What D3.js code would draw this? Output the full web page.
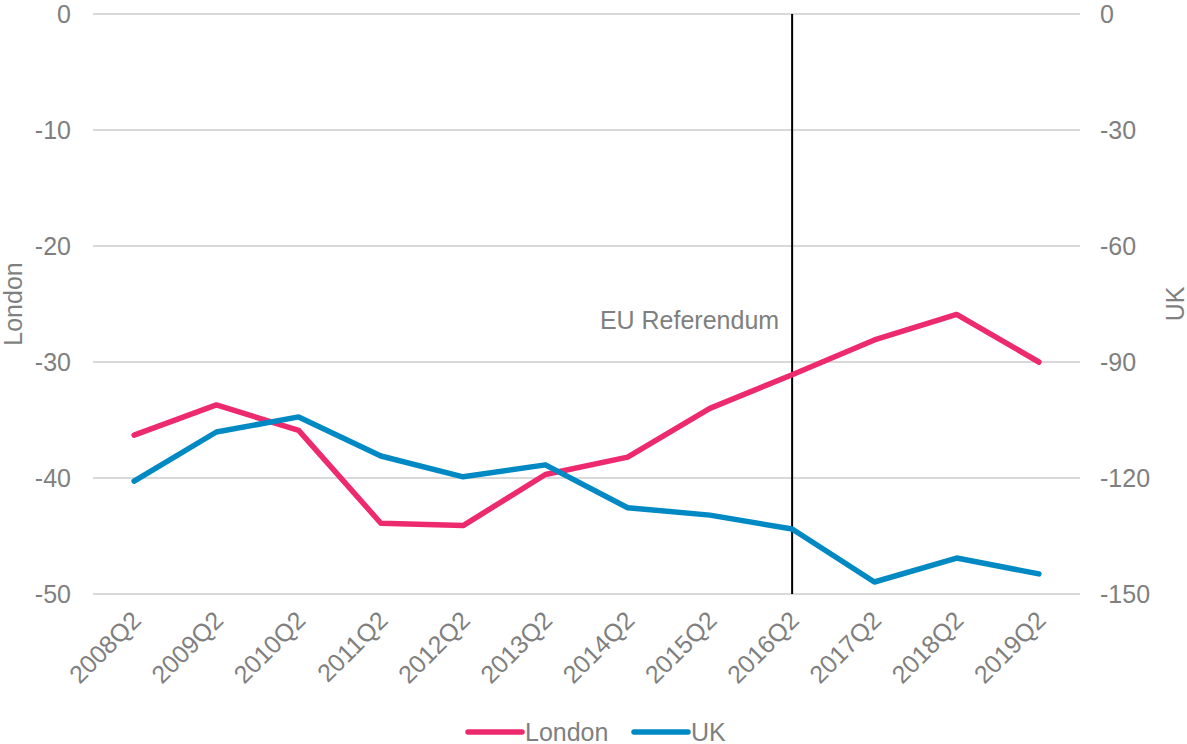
<!DOCTYPE html>
<html>
<head>
<meta charset="utf-8">
<script src="https://cdn.jsdelivr.net/npm/d3@7"></script>
<style>
  html, body { margin: 0; padding: 0; background: #fff; }
  svg { display: block; font-family: "Liberation Sans", Arial, sans-serif; }
</style>
</head>
<body>
<svg id="chart" width="1187" height="744"></svg>
<script>
// Quarterly series, London on the left axis and UK on the right axis
const quarters = ["2008Q2","2009Q2","2010Q2","2011Q2","2012Q2","2013Q2","2014Q2","2015Q2","2016Q2","2017Q2","2018Q2","2019Q2"];
const london = [-36.3, -33.7, -35.9, -43.9, -44.1, -39.7, -38.2, -34.0, -31.1, -28.1, -25.9, -30.0];
const uk = [-120.8, -108.1, -104.2, -114.3, -119.7, -116.6, -127.7, -129.6, -133.2, -146.9, -140.7, -144.8];
const leftTicks = [0, -10, -20, -30, -40, -50];
const rightTicks = [0, -30, -60, -90, -120, -150];
const marker = { quarter: "2016Q2", label: "EU Referendum" };

const svg = d3.select("#chart");
const gray = "#7f7f7f";
const font = "'Liberation Sans', Arial, sans-serif";
const fs = "25px";
const colLondon = "#ee2a6e";
const colUK = "#0089c3";

const plot = { left: 93, right: 1080, top: 14, bottom: 594 };

const x = d3.scalePoint().domain(quarters).range([plot.left, plot.right]).padding(0.5);
const yL = d3.scaleLinear().domain([-50, 0]).range([plot.bottom, plot.top]);
const yR = d3.scaleLinear().domain([-150, 0]).range([plot.bottom, plot.top]);
const fmt = d => String(d);

// gridlines
svg.append("g").selectAll("line").data(leftTicks).join("line")
  .attr("x1", plot.left).attr("x2", plot.right)
  .attr("y1", d => yL(d)).attr("y2", d => yL(d))
  .attr("stroke", "#d9d9d9").attr("stroke-width", 2);

function styleText(sel) {
  sel.attr("fill", gray).style("font-size", fs).style("font-family", font);
}

// left axis
const axL = svg.append("g").attr("transform", `translate(${plot.left},0)`)
  .call(d3.axisLeft(yL).tickValues(leftTicks).tickSize(0).tickPadding(22).tickFormat(fmt));
axL.select(".domain").remove();
axL.selectAll("text").call(styleText).attr("dy", "0.35em");

// right axis
const axR = svg.append("g").attr("transform", `translate(${plot.right},0)`)
  .call(d3.axisRight(yR).tickValues(rightTicks).tickSize(0).tickPadding(20).tickFormat(fmt));
axR.select(".domain").remove();
axR.selectAll("text").call(styleText).attr("dy", "0.35em");

// category axis, rotated labels
const axX = svg.append("g").attr("transform", `translate(0,${plot.bottom})`)
  .call(d3.axisBottom(x).tickSize(0).tickPadding(0));
axX.select(".domain").remove();
axX.selectAll("text").call(styleText)
  .attr("text-anchor", "end")
  .attr("dy", null)
  .attr("y", 0)
  .attr("transform", "translate(8,28) rotate(-45)");

// axis titles
svg.append("text").attr("transform", `translate(22,${(plot.top + plot.bottom) / 2}) rotate(-90)`)
  .attr("text-anchor", "middle").call(styleText).text("London");
svg.append("text").attr("transform", `translate(1184,${(plot.top + plot.bottom) / 2}) rotate(-90)`)
  .attr("text-anchor", "middle").call(styleText).text("UK");

// referendum marker
const mx = x(marker.quarter);
svg.append("line").attr("x1", mx).attr("x2", mx).attr("y1", plot.top).attr("y2", plot.bottom)
  .attr("stroke", "#000").attr("stroke-width", 2);
svg.append("text").attr("x", mx - 13).attr("y", 329).attr("text-anchor", "end")
  .call(styleText).text(marker.label);

// series lines
const lineL = d3.line().x((d, i) => x(quarters[i])).y(d => yL(d));
const lineR = d3.line().x((d, i) => x(quarters[i])).y(d => yR(d));
svg.append("path").datum(london).attr("d", lineL).attr("fill", "none")
  .attr("stroke", colLondon).attr("stroke-width", 5.5).attr("stroke-linejoin", "round").attr("stroke-linecap", "round");
svg.append("path").datum(uk).attr("d", lineR).attr("fill", "none")
  .attr("stroke", colUK).attr("stroke-width", 5.5).attr("stroke-linejoin", "round").attr("stroke-linecap", "round");

// legend
const legend = [
  { name: "London", color: colLondon, x: 468 },
  { name: "UK", color: colUK, x: 634 }
];
const lg = svg.append("g").selectAll("g").data(legend).join("g")
  .attr("transform", d => `translate(${d.x},732)`);
lg.append("line").attr("x1", 0).attr("x2", 54).attr("y1", 0).attr("y2", 0)
  .attr("stroke", d => d.color).attr("stroke-width", 5.5).attr("stroke-linecap", "round");
lg.append("text").attr("x", 57).attr("y", 0).attr("dy", "0.35em").call(styleText).text(d => d.name);
</script>
</body>
</html>
